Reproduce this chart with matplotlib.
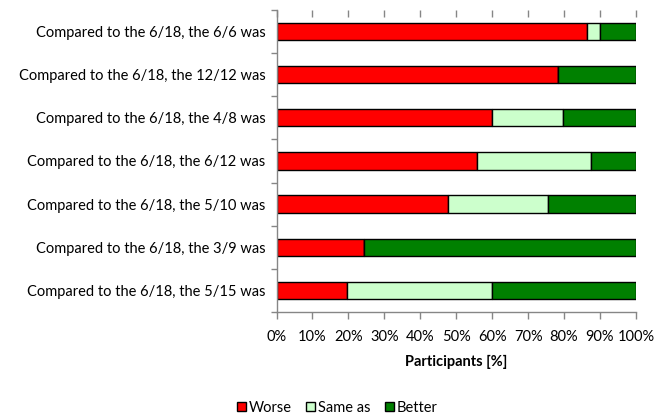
import numpy as np
import matplotlib
matplotlib.use("Agg")
import matplotlib.pyplot as plt
from matplotlib.patches import Patch

plt.rcParams['font.family'] = ['Lato', 'DejaVu Sans']

# categories, top to bottom
labels = [
    "Compared to the 6/18, the 6/6 was",
    "Compared to the 6/18, the 12/12 was",
    "Compared to the 6/18, the 4/8 was",
    "Compared to the 6/18, the 6/12 was",
    "Compared to the 6/18, the 5/10 was",
    "Compared to the 6/18, the 3/9 was",
    "Compared to the 6/18, the 5/15 was",
]
worse = [86.4, 78.4, 60.0, 55.9, 47.8, 24.4, 19.5]
same = [3.6, 0.0, 19.7, 31.6, 27.8, 0.0, 40.5]
better = [10.0, 21.6, 20.3, 12.5, 24.4, 75.6, 40.0]

series_names = ["Worse", "Same as", "Better"]
colors = ["#ff0000", "#ccffcc", "#008000"]

fig = plt.figure(figsize=(6.68, 4.17), dpi=100)
ax = fig.add_axes([0.414, 0.252, 0.538, 0.724])

y = np.arange(len(labels))[::-1]
left = np.zeros(len(labels))
for vals, name, c in zip([worse, same, better], series_names, colors):
    vals = np.array(vals)
    ax.barh(y, vals, left=left, height=0.4, color=c, edgecolor="black",
            linewidth=1.0, label=name)
    left += vals

ax.set_xlim(0, 100)
ax.set_ylim(-0.5, len(labels) - 0.5)
ax.set_xticks(np.arange(0, 101, 10))
ax.set_xticklabels([f"{v}%" for v in range(0, 101, 10)], fontsize=10.5)
ax.set_yticks(y)
ax.set_yticklabels(labels, fontsize=10.5)
ax.set_yticks(np.arange(-0.5, len(labels), 1), minor=True)
ax.tick_params(axis='y', which='major', length=0, pad=8)
ax.tick_params(axis='y', which='minor', length=4, color="#868686", width=1)
ax.tick_params(axis='x', length=5, color="#868686", width=1, pad=8)

for s in ["top", "right"]:
    ax.spines[s].set_visible(False)
for s in ["left", "bottom"]:
    ax.spines[s].set_color("#868686")
    ax.spines[s].set_linewidth(1)

top = ax.secondary_xaxis('top')
top.set_xticks(np.arange(0, 101, 10))
top.tick_params(direction='in', length=5, color="#868686", width=1,
                labeltop=False)
top.spines['top'].set_visible(False)

ax.set_xlabel("Participants [%]", fontsize=10.5, fontweight="bold", labelpad=8)

handles = [Patch(facecolor=c, edgecolor="black", label=n)
           for c, n in zip(colors, series_names)]
fig.legend(handles=handles, loc="center", bbox_to_anchor=(0.505, 0.022),
           ncol=3, frameon=False, fontsize=10.5, handlelength=0.6,
           handleheight=0.6, handletextpad=0.2, columnspacing=1.0)

fig.savefig("out.png", dpi=100)
